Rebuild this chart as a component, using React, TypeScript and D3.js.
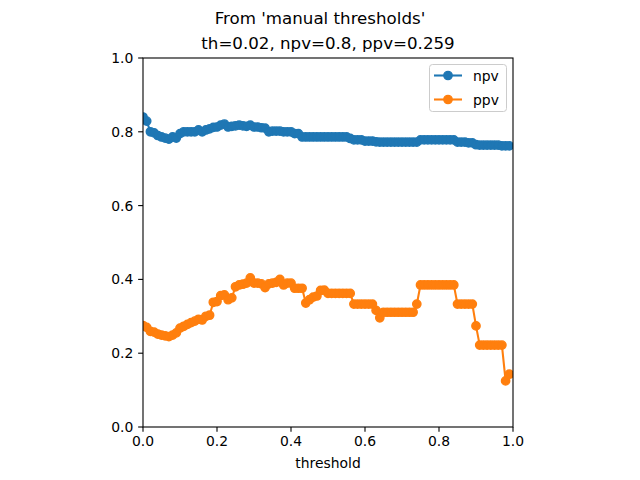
import React from "react";
import * as d3 from "d3";

const thresholds: number[] = d3.range(0, 100).map((i) => i / 100);

const npv: number[] = [
  0.840, 0.829, 0.800, 0.797, 0.790, 0.786, 0.783, 0.780, 0.786, 0.783,
  0.795, 0.800, 0.800, 0.800, 0.800, 0.805, 0.800, 0.805, 0.808, 0.812,
  0.813, 0.818, 0.821, 0.813, 0.815, 0.816, 0.818, 0.816, 0.815, 0.818,
  0.813, 0.813, 0.811, 0.810, 0.800, 0.802, 0.802, 0.802, 0.800, 0.800,
  0.800, 0.795, 0.795, 0.786, 0.786, 0.786, 0.786, 0.786, 0.786, 0.786,
  0.786, 0.786, 0.786, 0.786, 0.786, 0.786, 0.782, 0.778, 0.778, 0.778,
  0.775, 0.775, 0.775, 0.773, 0.772, 0.772, 0.772, 0.772, 0.772, 0.772,
  0.772, 0.772, 0.772, 0.772, 0.772, 0.778, 0.778, 0.778, 0.778, 0.778,
  0.778, 0.778, 0.778, 0.778, 0.778, 0.772, 0.772, 0.772, 0.770, 0.770,
  0.765, 0.764, 0.764, 0.764, 0.764, 0.764, 0.764, 0.762, 0.762, 0.762,
];

const ppv: number[] = [
  0.275, 0.270, 0.259, 0.257, 0.252, 0.249, 0.247, 0.245, 0.249, 0.255,
  0.268, 0.273, 0.278, 0.283, 0.287, 0.292, 0.290, 0.300, 0.303, 0.338,
  0.340, 0.356, 0.358, 0.345, 0.350, 0.380, 0.385, 0.387, 0.390, 0.404,
  0.390, 0.390, 0.388, 0.378, 0.388, 0.390, 0.392, 0.400, 0.385, 0.390,
  0.390, 0.376, 0.376, 0.376, 0.336, 0.345, 0.352, 0.355, 0.370, 0.371,
  0.362, 0.362, 0.362, 0.362, 0.362, 0.362, 0.362, 0.333, 0.333, 0.333,
  0.333, 0.333, 0.333, 0.316, 0.296, 0.311, 0.311, 0.311, 0.311, 0.311,
  0.311, 0.311, 0.311, 0.311, 0.333, 0.385, 0.385, 0.385, 0.385, 0.385,
  0.385, 0.385, 0.385, 0.385, 0.385, 0.333, 0.333, 0.333, 0.333, 0.333,
  0.274, 0.222, 0.222, 0.222, 0.222, 0.222, 0.222, 0.222, 0.125, 0.143,
];

const xTicks: number[] = [0, 0.2, 0.4, 0.6, 0.8, 1.0];
const yTicks: number[] = [0, 0.2, 0.4, 0.6, 0.8, 1.0];
const seriesNames: string[] = ["npv", "ppv"];
const seriesColors: string[] = ["#1f77b4", "#ff7f0e"];
const suptitle = "From 'manual thresholds'";
const axTitle = "th=0.02, npv=0.8, ppv=0.259";
const xLabel = "threshold";

export default function App() {
  const W = 640, H = 480;
  const L = 143, R = 513, T = 58, B = 427;
  const x = d3.scaleLinear().domain([0, 1]).range([L, R]);
  const y = d3.scaleLinear().domain([0, 1]).range([B, T]);
  const font = "'DejaVu Sans', sans-serif";
  const series = [npv, ppv];
  const line = d3
    .line<number>()
    .x((_, i) => x(thresholds[i]))
    .y((d) => y(d));
  const r = 4.17;
  const mew = 1.39;

  return (
    <svg
      width={W}
      height={H}
      style={{ position: "fixed", left: 0, top: 0, background: "#fff" }}
      fontFamily={font}
    >
      <rect x={0} y={0} width={W} height={H} fill="#fff" />
      <defs>
        <clipPath id="axclip">
          <rect x={L} y={T} width={R - L} height={B - T} />
        </clipPath>
      </defs>
      <text x={320} y={24} textAnchor="middle" fontSize={16.67} fill="#000">
        {suptitle}
      </text>
      <text x={(L + R) / 2} y={49} textAnchor="middle" fontSize={16.67} fill="#000">
        {axTitle}
      </text>
      <g clipPath="url(#axclip)">
        {series.map((s, k) => (
          <g key={seriesNames[k]}>
            <path d={line(s) || ""} fill="none" stroke={seriesColors[k]} strokeWidth={2.08} />
            {s.map((v, i) => (
              <circle
                key={i}
                cx={x(thresholds[i])}
                cy={y(v)}
                r={r}
                fill={seriesColors[k]}
                stroke={seriesColors[k]}
                strokeWidth={mew}
              />
            ))}
          </g>
        ))}
      </g>
      {/* spines */}
      <rect x={L} y={T} width={R - L} height={B - T} fill="none" stroke="#000" strokeWidth={1.1} />
      {/* x ticks */}
      {xTicks.map((t) => (
        <g key={"x" + t}>
          <line x1={x(t)} x2={x(t)} y1={B} y2={B + 4.86} stroke="#000" strokeWidth={1.1} />
          <text x={x(t)} y={B + 19} textAnchor="middle" fontSize={13.9} fill="#000">
            {t.toFixed(1)}
          </text>
        </g>
      ))}
      {yTicks.map((t) => (
        <g key={"y" + t}>
          <line x1={L} x2={L - 4.86} y1={y(t)} y2={y(t)} stroke="#000" strokeWidth={1.1} />
          <text x={L - 9.7} y={y(t) + 5} textAnchor="end" fontSize={13.9} fill="#000">
            {t.toFixed(1)}
          </text>
        </g>
      ))}
      <text x={(L + R) / 2} y={468} textAnchor="middle" fontSize={13.9} fill="#000">
        {xLabel}
      </text>
      {/* legend */}
      <g>
        <rect
          x={429.5}
          y={64.5}
          width={77}
          height={47}
          rx={3}
          fill="#fff"
          fillOpacity={0.8}
          stroke="#ccc"
          strokeWidth={1}
        />
        {seriesNames.map((n, k) => {
          const cy = 75.5 + k * 24;
          return (
            <g key={n}>
              <line x1={434} x2={462} y1={cy} y2={cy} stroke={seriesColors[k]} strokeWidth={2.08} />
              <circle cx={448} cy={cy} r={r} fill={seriesColors[k]} stroke={seriesColors[k]} strokeWidth={mew} />
              <text x={473} y={cy + 5} fontSize={13.9} fill="#000">
                {n}
              </text>
            </g>
          );
        })}
      </g>
    </svg>
  );
}
